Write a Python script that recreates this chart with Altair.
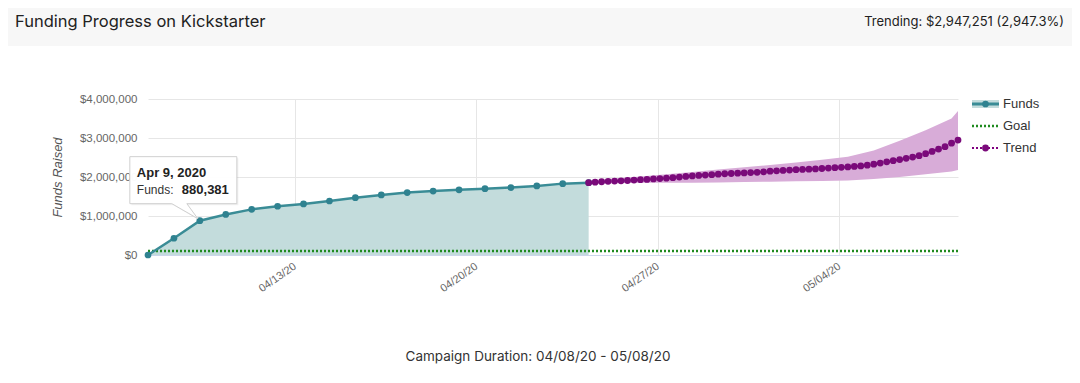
import altair as alt
import pandas as pd

# ---------------- data ----------------
funds_values = [0, 430000, 880381, 1040000, 1170000, 1250000, 1310000, 1385000,
                1470000, 1540000, 1600000, 1640000, 1670000, 1700000, 1730000,
                1770000, 1830000, 1855000]
funds_dates = pd.date_range("2020-04-07 08:00", periods=len(funds_values), freq="D")

trend_values = [1855000, 1868000, 1878000, 1888000, 1895000, 1902000, 1910000, 1920000, 1930000, 1937000,
                1950000, 1960000, 1970000, 1982000, 1998000, 2015000, 2028000, 2040000, 2050000, 2060000,
                2073000, 2083000, 2090000, 2098000, 2105000, 2113000, 2120000, 2133000, 2148000, 2158000,
                2168000, 2178000, 2187000, 2194000, 2200000, 2208000, 2218000, 2228000, 2238000, 2248000,
                2258000, 2270000, 2285000, 2302000, 2328000, 2356000, 2388000, 2418000, 2448000, 2478000,
                2510000, 2548000, 2598000, 2655000, 2715000, 2778000, 2868000, 2947251]
trend_dates = pd.date_range("2020-04-24 08:00", periods=len(trend_values), freq="6h")

band_upper = [1890000, 1960000, 2010000, 2070000, 2130000, 2190000, 2250000, 2310000,
              2370000, 2440000, 2520000, 2680000, 2930000, 3200000, 3500000, 3690000]
band_lower = [1830000, 1840000, 1850000, 1855000, 1855000, 1860000, 1870000, 1880000,
              1890000, 1900000, 1910000, 1950000, 2000000, 2070000, 2140000, 2180000]
band_dates = list(pd.date_range("2020-04-24 08:00", periods=15, freq="D")) + [trend_dates[-1]]

goal_value = 100000
goal_dates = [funds_dates[0], trend_dates[-1]]

tooltip_index = 2
y_ticks = [0, 1000000, 2000000, 3000000, 4000000]
x_ticks = [alt.DateTime(year=2020, month=4, date=13), alt.DateTime(year=2020, month=4, date=20),
           alt.DateTime(year=2020, month=4, date=27), alt.DateTime(year=2020, month=5, date=4)]

title_text = "Funding Progress on Kickstarter"
trending_text = "Trending: $2,947,251 (2,947.3%)"
footer_text = "Campaign Duration: 04/08/20 - 05/08/20"
legend_labels = ["Funds", "Goal", "Trend"]
y_title = "Funds Raised"

# ---------------- styling ----------------
TEAL = "#3a8c96"
TEAL_PT = "#2f8290"
TEAL_AREA = "#c3dcdc"
GREEN = "#1f8a1f"
PURPLE = "#800080"
PURPLE_PT = "#7a0a7a"
PURPLE_BAND = "#d8acd8"
AXIS_FONT = "Liberation Sans"
UI_FONT = "Inter"

W, H = 810, 156
PAD = {"left": 140, "top": 91, "right": 114, "bottom": 120}

funds_df = pd.DataFrame({"date": funds_dates, "value": funds_values})
trend_df = pd.DataFrame({"date": trend_dates, "value": trend_values})
band_df = pd.DataFrame({"date": band_dates, "upper": band_upper, "lower": band_lower})
goal_df = pd.DataFrame({"date": goal_dates, "value": [goal_value] * 2})
tip_df = funds_df.iloc[[tooltip_index]].reset_index(drop=True)
one = pd.DataFrame({"k": [0]})

xscale = alt.Scale(nice=False)
yscale = alt.Scale(domain=[0, 4000000], nice=False)

X_AX = alt.X("date:T", scale=xscale,
             axis=alt.Axis(values=x_ticks, format="%m/%d/%y", title=None, labelAngle=325,
                           labelAlign="right", labelBaseline="middle", labelPadding=10,
                           labelFont=AXIS_FONT, labelFontSize=11, labelColor="#666666",
                           labelOverlap=False,
                           grid=True, gridColor="#e6e6e6", ticks=False,
                           domain=True, domainColor="#ccd6eb"))
Y_AX = alt.Y("value:Q", scale=yscale,
             axis=alt.Axis(values=y_ticks, format="$,.0f", title=y_title,
                           labelFont=AXIS_FONT, labelFontSize=11.5, labelColor="#666666",
                           labelOverlap=False, labelFlush=False,
                           labelPadding=11, grid=True, gridColor="#e6e6e6", ticks=False,
                           domain=False, titleFont=AXIS_FONT, titleFontSize=13,
                           titleFontStyle="italic", titleFontWeight="normal", titleColor="#555555",
                           titleAngle=270, titleX=-91, titleY=H / 2, titleAlign="center",
                           titleBaseline="middle"))
X = alt.X("date:T", scale=xscale, axis=None)
Y = alt.Y("value:Q", scale=yscale, axis=None)

header = alt.Chart(one).mark_rect(color="#f7f7f7").encode(
    x=alt.value(-PAD["left"]), x2=alt.value(W + PAD["right"]),
    y=alt.value(-PAD["top"]), y2=alt.value(-53))

funds_area = alt.Chart(funds_df).mark_area(color=TEAL_AREA, opacity=1).encode(x=X_AX, y=Y_AX)

band = alt.Chart(band_df).mark_area(color=PURPLE_BAND, opacity=1).encode(
    x=X, y=alt.Y("upper:Q", scale=yscale, axis=None), y2="lower:Q")

goal = alt.Chart(goal_df).mark_line(color=GREEN, strokeWidth=2.5, strokeDash=[2, 2]).encode(x=X, y=Y)

funds_line = alt.Chart(funds_df).mark_line(color=TEAL, strokeWidth=2.5).encode(x=X, y=Y)
funds_pts = alt.Chart(funds_df).mark_point(filled=True, color=TEAL_PT, size=45, opacity=1).encode(x=X, y=Y)

trend_line = alt.Chart(trend_df).mark_line(color=PURPLE, strokeWidth=2, strokeDash=[2, 2]).encode(x=X, y=Y)
trend_pts = alt.Chart(trend_df).mark_point(filled=True, color=PURPLE_PT, size=46, opacity=1).encode(x=X, y=Y)

tip_path = ("M -0.70 -0.64 L 0.37 -0.64 L 0.37 -0.17 L -0.13 -0.17 L -0.02 -0.02 "
            "L -0.28 -0.17 L -0.70 -0.17 Z")
tip_shadow = alt.Chart(tip_df).mark_point(shape=tip_path, size=40000, filled=True, fill="#000000",
                                          opacity=0.06, xOffset=1.5, yOffset=1.5, strokeWidth=0).encode(x=X, y=Y)
tip_box = alt.Chart(tip_df).mark_point(shape=tip_path, size=40000, filled=True, fill="#ffffff",
                                       stroke="#d0d0d0", strokeWidth=1, opacity=1, fillOpacity=0.97).encode(x=X, y=Y)
tip_date = alt.Chart(tip_df).mark_text(align="left", baseline="middle", dx=-63, dy=-48,
                                       font=AXIS_FONT, fontSize=13, fontWeight="bold",
                                       color="#222222").encode(
    x=X, y=Y, text=alt.Text("date:T", format="%b %-d, %Y"))
tip_lbl = alt.Chart(tip_df).mark_text(align="left", baseline="middle", dx=-63, dy=-31,
                                      font=AXIS_FONT, fontSize=12, color="#333333").encode(
    x=X, y=Y, text=alt.value("Funds:"))
tip_val = alt.Chart(tip_df).mark_text(align="left", baseline="middle", dx=-18, dy=-31,
                                      font=AXIS_FONT, fontSize=13, fontWeight="bold",
                                      color="#222222").encode(
    x=X, y=Y, text=alt.Text("value:Q", format=","))

# legend (drawn by hand to reproduce the combined symbols)
LX0, LX1, LTX = 824, 851, 855
LY = [5, 27, 49]
leg = [
    alt.Chart(one).mark_rect(color=TEAL_AREA).encode(
        x=alt.value(LX0), x2=alt.value(LX1), y=alt.value(LY[0] - 4), y2=alt.value(LY[0] + 4)),
    alt.Chart(one).mark_rule(color=TEAL, strokeWidth=3).encode(
        x=alt.value(LX0), x2=alt.value(LX1), y=alt.value(LY[0])),
    alt.Chart(one).mark_point(filled=True, color=TEAL_PT, size=45, opacity=1).encode(
        x=alt.value((LX0 + LX1) / 2), y=alt.value(LY[0])),
    alt.Chart(one).mark_rule(color=GREEN, strokeWidth=2.5, strokeDash=[2, 2]).encode(
        x=alt.value(LX0), x2=alt.value(LX1), y=alt.value(LY[1])),
    alt.Chart(one).mark_rule(color=PURPLE, strokeWidth=2, strokeDash=[2, 2]).encode(
        x=alt.value(LX0), x2=alt.value(LX1), y=alt.value(LY[2])),
    alt.Chart(one).mark_point(filled=True, color=PURPLE_PT, size=46, opacity=1).encode(
        x=alt.value((LX0 + LX1) / 2), y=alt.value(LY[2])),
]
for i, lab in enumerate(legend_labels):
    leg.append(alt.Chart(one).mark_text(align="left", baseline="middle", font=AXIS_FONT,
                                        fontSize=13, color="#333333").encode(
        x=alt.value(LTX), y=alt.value(LY[i]), text=alt.value(lab)))

title = alt.Chart(one).mark_text(align="left", baseline="middle", font=UI_FONT, fontSize=16.5,
                                 color="#222222").encode(
    x=alt.value(-133), y=alt.value(-77), text=alt.value(title_text))
trending = alt.Chart(one).mark_text(align="right", baseline="middle", font=UI_FONT, fontSize=13,
                                    color="#222222").encode(
    x=alt.value(916), y=alt.value(-77), text=alt.value(trending_text))
footer = alt.Chart(one).mark_text(align="center", baseline="middle", font=UI_FONT, fontSize=13.5,
                                  color="#333333").encode(
    x=alt.value(390), y=alt.value(258), text=alt.value(footer_text))

chart = alt.layer(
    header, funds_area, band, goal, funds_line, funds_pts, trend_line, trend_pts,
    tip_shadow, tip_box, tip_date, tip_lbl, tip_val, *leg, title, trending, footer
).resolve_axis(
    x="independent", y="independent"
).properties(
    width=W, height=H, padding=PAD,
    autosize=alt.AutoSizeParams(type="none"),
    background="#ffffff",
).configure_view(strokeWidth=0)

chart.save("out.html", embed_options={"renderer": "svg", "actions": False})
